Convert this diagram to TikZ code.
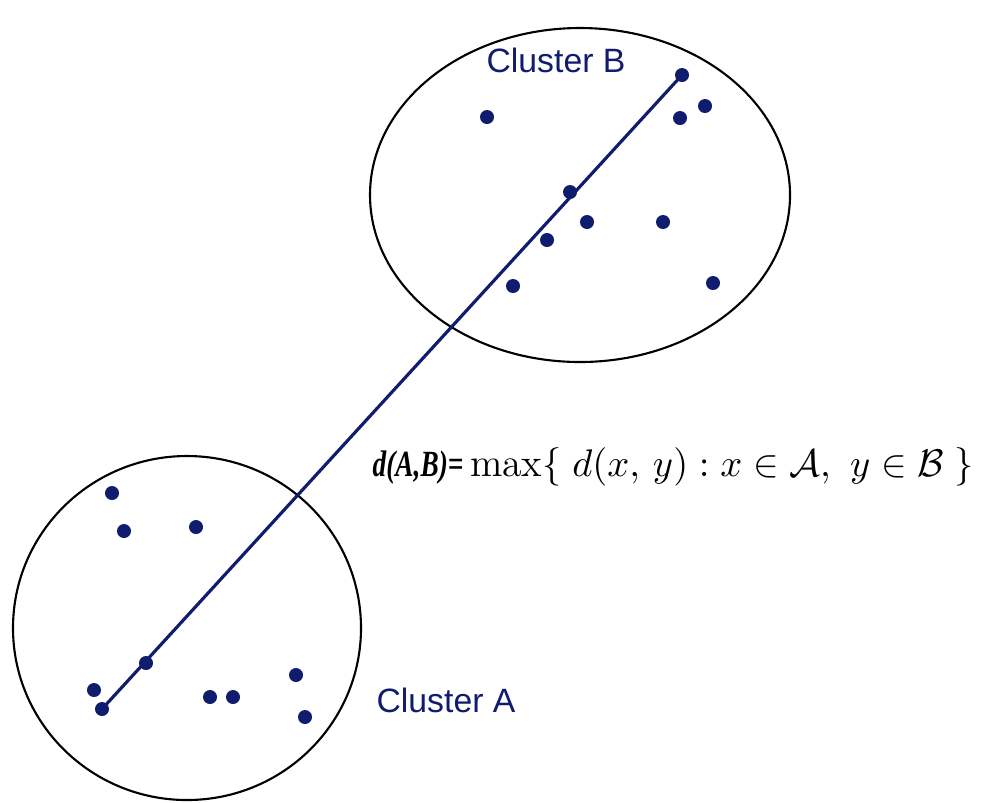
\documentclass[tikz,border=0pt]{standalone}
\usepackage{amsmath,amssymb}
\usepackage{fontspec}
\setsansfont{Liberation Sans}
\newfontfamily\timesfont{Liberation Serif}
\usepackage{tikz}
\usetikzlibrary{positioning}

\definecolor{clusterblue}{RGB}{16,28,110}

\begin{document}
\begin{tikzpicture}[
  x=0.01cm, y=-0.01cm,
  dot/.style={circle, fill=clusterblue, inner sep=0pt, minimum size=0.14cm},
  rim/.style={draw=black, line width=0.6pt},
  link/.style={draw=clusterblue, line width=0.9pt},
  label/.style={text=clusterblue, font=\sffamily\fontsize{9.6}{11}\selectfont},
  formula/.style={font=\fontsize{11.3}{14}\selectfont, anchor=west, inner sep=0pt}
]
\useasboundingbox (0,0) rectangle (983,802);

% Cluster outlines
\draw[rim] (187,628) ellipse [x radius=174, y radius=172];
\draw[rim] (580,195) ellipse [x radius=210, y radius=167];

% Cluster A
\node[dot] (a1) at (112,493) {};
\node[dot] (a2) at (124,531) {};
\node[dot] (a3) at (196,527) {};
\node[dot] (a4) at (146,663) {};
\node[dot] (a5) at (94,690) {};
\node[dot] (a6) at (102,709) {};
\node[dot] (a7) at (210,697) {};
\node[dot] (a8) at (233,697) {};
\node[dot] (a9) at (296,675) {};
\node[dot] (a10) at (305,717) {};

% Cluster B
\node[dot] (b1) at (682,75) {};
\node[dot] (b2) at (487,117) {};
\node[dot] (b3) at (680,118) {};
\node[dot] (b4) at (705,106) {};
\node[dot] (b5) at (570,192) {};
\node[dot] (b6) at (587,222) {};
\node[dot] (b7) at (663,222) {};
\node[dot] (b8) at (547,240) {};
\node[dot] (b9) at (513,286) {};
\node[dot] (b10) at (713,283) {};

% Labels
\node[label] (labB) at (556,60) {Cluster B};
\node[label] (labA) at (446,700) {Cluster A};
\node[formula] (dist) at (372,467) {\scalebox{0.74}[1]{\fontsize{10.5}{13}\timesfont\bfseries\itshape d(A,B)=}\,$\max\{\; d(x,\,y) : x \in \mathcal{A},\ y \in \mathcal{B} \;\}$};

% Farthest pair
\draw[link] (a6.center) -- (b1.center);

\end{tikzpicture}
\end{document}
